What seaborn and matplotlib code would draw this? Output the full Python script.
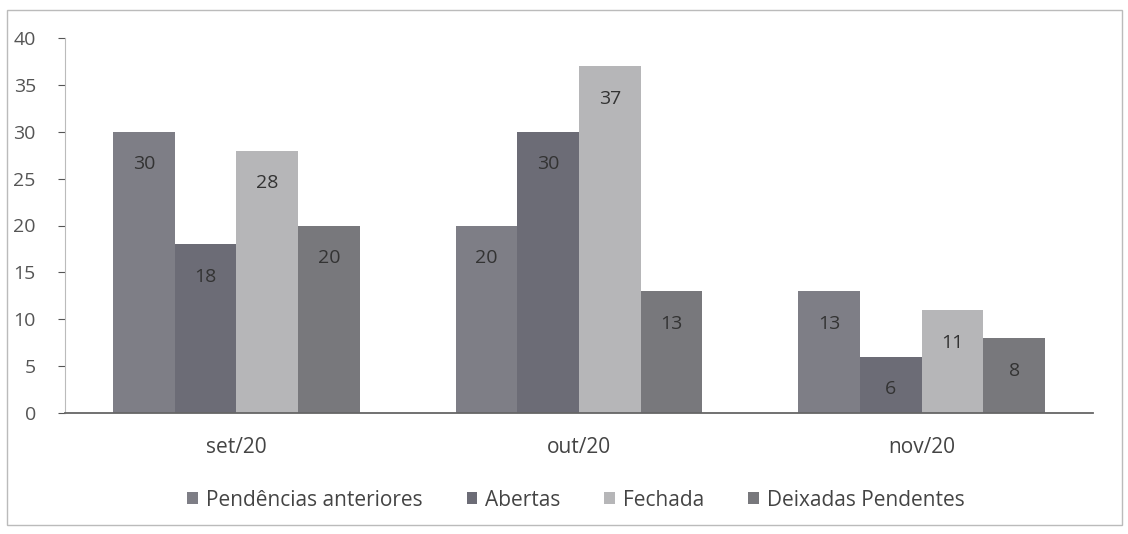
import matplotlib
matplotlib.use("Agg")
import matplotlib.pyplot as plt
import seaborn as sns
import pandas as pd
from matplotlib.patches import Rectangle

months = ["set/20", "out/20", "nov/20"]
series = ["Pendências anteriores", "Abertas", "Fechada", "Deixadas Pendentes"]
pendencias = [30, 20, 13]
abertas = [18, 30, 6]
fechada = [28, 37, 11]
deixadas = [20, 13, 8]
yticks = [0, 5, 10, 15, 20, 25, 30, 35, 40]

colors = ["#7e7e86", "#6c6c76", "#b6b6b8", "#78787c"]

rows = []
for s, vals in zip(series, [pendencias, abertas, fechada, deixadas]):
    for m, v in zip(months, vals):
        rows.append({"mes": m, "serie": s, "valor": v})
df = pd.DataFrame(rows)

sns.set_theme(style="white")
plt.rcParams["font.family"] = ["Open Sans", "DejaVu Sans"]

fig = plt.figure(figsize=(11.28, 5.34), dpi=100)
ax = fig.add_axes([65 / 1128, 1 - 413 / 534, 1028 / 1128, 375 / 534])

sns.barplot(data=df, x="mes", y="valor", hue="serie", order=months,
            hue_order=series, palette=colors, width=0.72, gap=0,
            saturation=1, edgecolor="none", linewidth=0, ax=ax, legend=True)

for cont in ax.containers:
    ax.bar_label(cont, label_type="edge", padding=-30, fontsize=14,
                 color="#333333")

ax.set_ylim(0, 40)
ax.set_xlim(-0.5, 2.5)
ax.set_yticks(yticks)
ax.set_xlabel("")
ax.set_ylabel("")
ax.tick_params(axis="y", labelsize=14, colors="#555555", left=True,
               length=5, width=0.8, pad=16)
ax.tick_params(axis="x", labelsize=15, colors="#444444", bottom=False, pad=11)
for sp in ["top", "right"]:
    ax.spines[sp].set_visible(False)
ax.spines["left"].set_color("#bbbbbb")
ax.spines["left"].set_linewidth(0.8)
ax.spines["bottom"].set_color("#666666")
ax.spines["bottom"].set_linewidth(1.3)

handles, labels = ax.get_legend_handles_labels()
ax.get_legend().remove()
leg = fig.legend(handles, labels, loc="center",
                 bbox_to_anchor=(576 / 1128, 1 - 500 / 534), ncol=4,
                 frameon=False, fontsize=15, handlelength=0.5,
                 handleheight=0.5, handletextpad=0.4, columnspacing=2.1)
for t in leg.get_texts():
    t.set_color("#444444")

fig.patches.append(Rectangle((7 / 1128, 1 - 525 / 534), 1115 / 1128, 515 / 534,
                             transform=fig.transFigure, fill=False,
                             edgecolor="#bbbbbb", linewidth=1))

fig.savefig("out.png", dpi=100)
